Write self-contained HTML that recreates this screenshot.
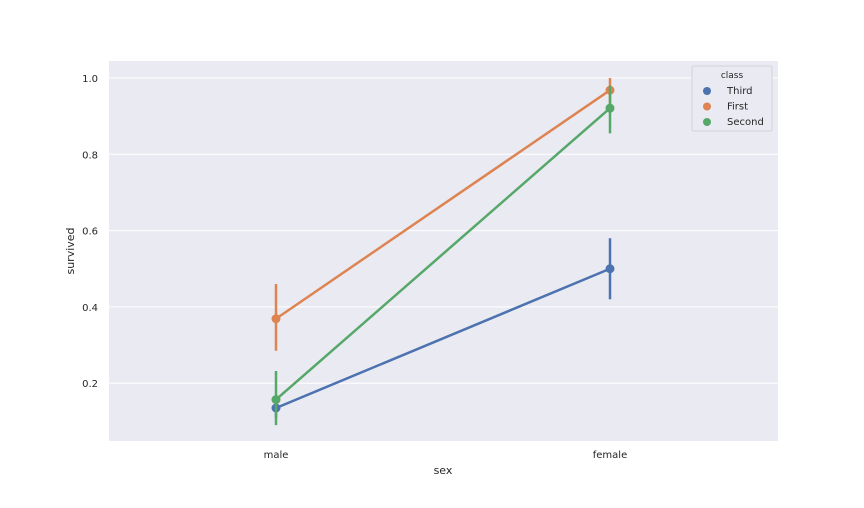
<!DOCTYPE html>
<html><head><meta charset="utf-8"><style>
body{margin:0;background:#fff;font-family:"DejaVu Sans","Liberation Sans",sans-serif}
</style></head><body>
<svg id="c" width="864" height="504" xmlns="http://www.w3.org/2000/svg"></svg>
<script>
const categories=["male","female"];
const seriesNames=["Third","First","Second"];
const colors=["#4c72b0","#dd8452","#55a868"];
const means=[[0.135,0.5],[0.369,0.968],[0.157,0.921]];
const ciLow=[[0.11,0.42],[0.285,0.93],[0.09,0.855]];
const ciHigh=[[0.165,0.58],[0.46,1.0],[0.232,0.98]];
const yTicks=[0.2,0.4,0.6,0.8,1.0];
const L=109,R=778,T=61,B=441;
const y=v=>78+(1-v)*381.5;
const x=i=>276+i*334;
const s=document.getElementById('c');
const NS="http://www.w3.org/2000/svg";
function mk(t,a,p){const e=document.createElementNS(NS,t);for(const k in a)e.setAttribute(k,a[k]);(p||s).appendChild(e);return e;}
let bg=mk('rect',{x:L,y:T,width:R-L,height:B-T,fill:'#eaeaf2'});


yTicks.forEach(v=>{
 let g=mk('line',{x1:L,x2:R,y1:y(v),y2:y(v),stroke:'#fff','stroke-width':1});
 
 
 let t=mk('text',{x:L-11,y:y(v)+4,'text-anchor':'end','font-size':10,fill:'#262626'});t.textContent=v.toFixed(1);
 
 
});
categories.forEach((c,i)=>{
 let t=mk('text',{x:x(i),y:458,'text-anchor':'middle','font-size':10,fill:'#262626'});t.textContent=c;
 
 
});
let xl=mk('text',{x:443,y:474,'text-anchor':'middle','font-size':11,fill:'#262626'});xl.textContent='sex';


let yl=mk('text',{x:74,y:251,'text-anchor':'middle','font-size':11,fill:'#262626',transform:'rotate(-90 74 251)'});yl.textContent='survived';


seriesNames.forEach((n,k)=>{
 let pts=means[k].map((m,i)=>x(i)+','+y(m)).join(' ');
 let pl=mk('polyline',{points:pts,fill:'none',stroke:colors[k],'stroke-width':2.5});
 
 
 means[k].forEach((m,i)=>{
  let e=mk('line',{x1:x(i),x2:x(i),y1:y(ciLow[k][i]),y2:y(ciHigh[k][i]),stroke:colors[k],'stroke-width':2.5});
  
  
  let p=mk('circle',{cx:x(i),cy:y(m),r:4.5,fill:colors[k]});
  
  
 });
});
let lg=mk('g',{});


mk('rect',{x:692,y:66,width:80,height:65,rx:2,fill:'#eaeaf2',stroke:'#cccccc','stroke-width':0.8},lg);
let lt=mk('text',{x:732,y:78,'text-anchor':'middle','font-size':9,fill:'#262626'},lg);lt.textContent='class';
seriesNames.forEach((n,k)=>{
 let g=mk('g',{},lg);
 
 
 mk('circle',{cx:707,cy:91+k*15.5,r:4,fill:colors[k]},g);
 let t=mk('text',{x:727,y:94+k*15.5,'font-size':10,fill:'#262626'},g);t.textContent=n;
});
</script>
</body></html>
